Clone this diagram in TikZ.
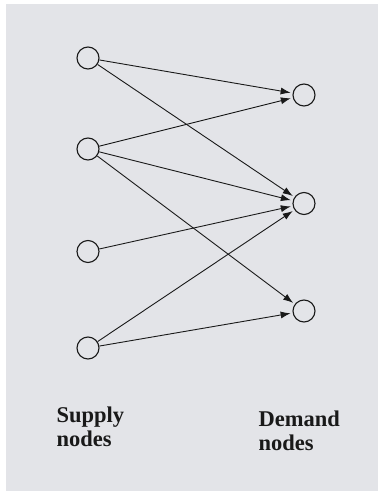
\documentclass[tikz,border=0pt]{standalone}
\usepackage{fontspec}
\setmainfont{Liberation Serif}
\usetikzlibrary{arrows.meta}
\definecolor{bggray}{RGB}{227,228,232}
\definecolor{ink}{RGB}{25,25,25}
\tikzset{
  nd/.style={circle,draw=ink,line width=1.1pt,minimum size=22pt,inner sep=0pt},
  arc/.style={draw=ink,line width=0.9pt,-{Latex[length=10pt,width=7pt]},shorten >=2pt},
  lbl/.style={font=\bfseries\fontsize{22.5}{24}\selectfont,align=left,inner sep=0pt,anchor=base west,text=ink}
}
\begin{document}
\begin{tikzpicture}[x=1pt,y=-1pt]
\useasboundingbox (0,0) rectangle (380,493);
\fill[white] (0,0) rectangle (380,493);
\fill[bggray] (6,4) rectangle (378,491);
\node[nd] (s1) at (88,58) {};
\node[nd] (s2) at (88,149) {};
\node[nd] (s3) at (88,251.5) {};
\node[nd] (s4) at (88,348) {};
\node[nd] (d1) at (304,95) {};
\node[nd] (d2) at (304,203.5) {};
\node[nd] (d3) at (304,311) {};
\draw[arc] (s1) -- (d1);
\draw[arc] (s1) -- (d2);
\draw[arc] (s2) -- (d1);
\draw[arc] (s2) -- (d2);
\draw[arc] (s2) -- (d3);
\draw[arc] (s3) -- (d2);
\draw[arc] (s4) -- (d2);
\draw[arc] (s4) -- (d3);
\node[lbl] (sup) at (56.5,446.7) {Supply\\nodes};
\node[lbl] (dem) at (258.5,450.3) {Demand\\nodes};
\end{tikzpicture}
\end{document}
